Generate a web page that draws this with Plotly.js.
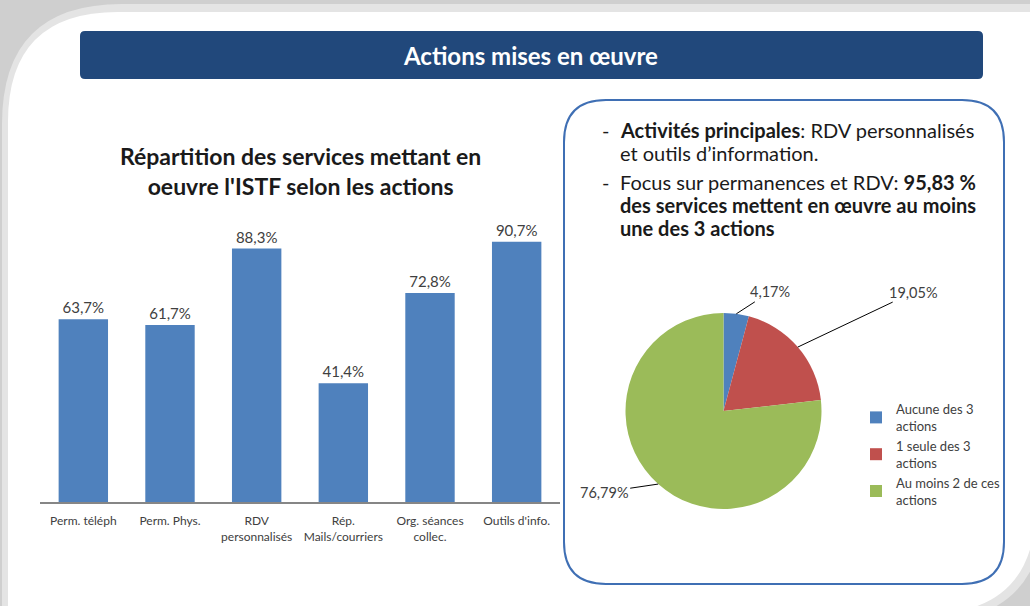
<!DOCTYPE html>
<html>
<head>
<meta charset="utf-8">
<script src="https://cdn.plot.ly/plotly-3.0.1.min.js"></script>
<style>
  html, body { margin: 0; padding: 0; background: #ffffff; }
  #chart { width: 1030px; height: 606px; }
</style>
</head>
<body>
<div id="chart"></div>
<script>
// Données du graphique en barres
const categories = ['Perm. téléph', 'Perm. Phys.', 'RDV<br>personnalisés', 'Rép.<br>Mails/courriers', 'Org. séances<br>collec.', "Outils d'info."];
const pourcentages = [63.7, 61.7, 88.3, 41.4, 72.8, 90.7];

// Données du camembert
const labelsPie = ['Aucune des 3<br>actions', '1 seule des 3<br>actions', 'Au moins 2 de ces<br>actions'];
const valeursPie = [4.17, 19.05, 76.79];
const couleursPie = ['#4f81bd', '#c0504d', '#9bbb59'];

const W = 1030, H = 606;
const police = 'Lato, "Open Sans", sans-serif';

// --- Géométrie du camembert (pixels) ---
const pieCx = 723.5, pieCy = 411, pieR = 98;
const pieDomain = {
    x: [(pieCx - pieR) / W, (pieCx + pieR) / W],
    y: [1 - (pieCy + pieR) / H, 1 - (pieCy - pieR) / H]
};

const traceBarres = {
    type: 'bar',
    x: categories,
    y: pourcentages,
    text: pourcentages.map(v => v.toFixed(1).replace('.', ',') + '%'),
    textposition: 'outside',
    textfont: {size: 15, color: '#404040', family: police},
    cliponaxis: false,
    marker: {color: '#4f81bd'},
    hoverinfo: 'none',
    showlegend: false,
    xaxis: 'x', yaxis: 'y'
};

const tracePie = {
    type: 'pie',
    labels: labelsPie,
    values: valeursPie,
    marker: {colors: couleursPie, line: {width: 0}},
    sort: false,
    direction: 'clockwise',
    rotation: 0,
    textinfo: 'none',
    hoverinfo: 'none',
    domain: pieDomain
};

// --- Étiquettes du camembert avec lignes de rappel ---
const decalages = [[34, -22], [116, -55], [-54, 8]];
const total = valeursPie.reduce((a, b) => a + b, 0);
let cumul = 0;
const annotPie = valeursPie.map((v, i) => {
    const milieu = (cumul + v / 2) / total * 2 * Math.PI;
    cumul += v;
    const px = pieCx + pieR * Math.sin(milieu);
    const py = pieCy - pieR * Math.cos(milieu);
    return {
        xref: 'paper', yref: 'paper',
        x: px / W, y: 1 - py / H,
        text: v.toFixed(2).replace('.', ',') + '%',
        showarrow: true, arrowhead: 0, arrowwidth: 1, arrowcolor: '#000000',
        ax: decalages[i][0], ay: decalages[i][1],
        font: {size: 14.5, color: '#404040', family: police}
    };
});

// --- Textes du cadre de droite ---
const lignesTexte = [
    {y: 130, txt: '<b>Activités principales</b>: RDV personnalisés', tiret: true},
    {y: 153, txt: 'et outils d’information.', tiret: false},
    {y: 182, txt: 'Focus sur permanences et RDV: <b>95,83 %</b>', tiret: true},
    {y: 205, txt: '<b>des services mettent en œuvre au moins</b>', tiret: false},
    {y: 228, txt: '<b>une des 3 actions</b>', tiret: false}
];
const annotTexte = [];
lignesTexte.forEach(l => {
    if (l.tiret) {
        annotTexte.push({
            xref: 'paper', yref: 'paper', x: 600 / W, y: 1 - l.y / H,
            xanchor: 'left', yanchor: 'middle', showarrow: false,
            text: '-', font: {size: 20, color: '#1a1a1a', family: police}
        });
    }
    annotTexte.push({
        xref: 'paper', yref: 'paper', x: 618 / W, y: 1 - l.y / H,
        xanchor: 'left', yanchor: 'middle', showarrow: false,
        text: l.txt, font: {size: 20, color: '#1a1a1a', family: police}
    });
});

const annotations = [
    {
        xref: 'paper', yref: 'paper', x: 530 / W, y: 1 - 55 / H,
        xanchor: 'center', yanchor: 'middle',
        showarrow: false, text: '<b>Actions mises en œuvre</b>',
        font: {size: 24, color: '#ffffff', family: police}
    },
    {
        xref: 'paper', yref: 'paper', x: 300 / W, y: 1 - 171 / H,
        xanchor: 'center', yanchor: 'middle',
        showarrow: false,
        text: '<b>Répartition des services mettant en<br>oeuvre l\'ISTF selon les actions</b>',
        font: {size: 23, color: '#1a1a1a', family: police}
    },
    ...annotPie,
    ...annotTexte
];

// --- Formes décoratives (fond de diapositive) ---
function rectArrondi(x0, y0, x1, y1, r) {
    const X = x => x / W, Y = y => 1 - y / H;
    return `M ${X(x0 + r)},${Y(y0)} L ${X(x1 - r)},${Y(y0)} Q ${X(x1)},${Y(y0)} ${X(x1)},${Y(y0 + r)} ` +
        `L ${X(x1)},${Y(y1 - r)} Q ${X(x1)},${Y(y1)} ${X(x1 - r)},${Y(y1)} L ${X(x0 + r)},${Y(y1)} ` +
        `Q ${X(x0)},${Y(y1)} ${X(x0)},${Y(y1 - r)} L ${X(x0)},${Y(y0 + r)} Q ${X(x0)},${Y(y0)} ${X(x0 + r)},${Y(y0)} Z`;
}
function fondDiapo(x0, y0, x1, y1, r) {
    const X = x => x / W, Y = y => 1 - y / H;
    return `M ${X(x0)},${Y(y0 + r)} Q ${X(x0)},${Y(y0)} ${X(x0 + r)},${Y(y0)} L ${X(x1)},${Y(y0)} ` +
        `L ${X(x1)},${Y(y1 - r)} Q ${X(x1)},${Y(y1)} ${X(x1 - r)},${Y(y1)} L ${X(x0)},${Y(y1)} Z`;
}

const shapes = [
    {type: 'path', xref: 'paper', yref: 'paper', path: fondDiapo(2, 4, 1045, 622, 120),
        fillcolor: '#e4e4e4', line: {width: 0}, layer: 'below'},
    {type: 'path', xref: 'paper', yref: 'paper', path: fondDiapo(8, 12, 1036, 614, 110),
        fillcolor: '#ffffff', line: {width: 0}, layer: 'below'},
    {type: 'path', xref: 'paper', yref: 'paper', path: rectArrondi(80, 31, 983, 79, 5),
        fillcolor: '#21487b', line: {width: 0}, layer: 'below'},
    {type: 'path', xref: 'paper', yref: 'paper', path: rectArrondi(564, 100, 1004, 584, 42),
        fillcolor: 'rgba(0,0,0,0)', line: {color: '#3f6fb4', width: 2}, layer: 'below'}
];

const layout = {
    width: W, height: H,
    margin: {l: 0, r: 0, t: 0, b: 0},
    paper_bgcolor: '#cfcfcf',
    plot_bgcolor: 'rgba(0,0,0,0)',
    font: {family: police, color: '#404040'},
    bargap: 0.43,
    xaxis: {
        domain: [40 / W, 560 / W],
        showline: true, linecolor: '#868686', linewidth: 2,
        ticks: '', showgrid: false, zeroline: false,
        ticklabelstandoff: 7,
        tickfont: {size: 12, color: '#404040', family: police},
        fixedrange: true
    },
    yaxis: {
        domain: [1 - 502 / H, 1 - 215 / H],
        range: [0, 100],
        visible: false, showgrid: false, zeroline: false,
        fixedrange: true
    },
    showlegend: true,
    legend: {
        x: 856 / W, y: 1 - 394 / H, xanchor: 'left', yanchor: 'top',
        font: {size: 13, color: '#404040', family: police},
        bgcolor: 'rgba(0,0,0,0)'
    },
    annotations: annotations,
    shapes: shapes
};

Plotly.newPlot('chart', [traceBarres, tracePie], layout, {displayModeBar: false, staticPlot: true});
</script>
</body>
</html>
